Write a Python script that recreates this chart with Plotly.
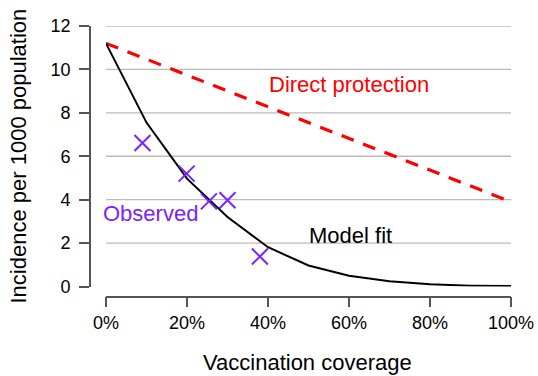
import plotly.graph_objects as go

# Data
coverage_model = [0.0, 0.1, 0.2, 0.3, 0.4, 0.5, 0.6, 0.7, 0.8, 0.9, 1.0]
model_fit = [11.2, 7.55, 4.97, 3.2, 1.81, 0.97, 0.5, 0.24, 0.1, 0.04, 0.02]
coverage_direct = [0.0, 1.0]
direct_protection = [11.2, 3.9]
coverage_obs = [0.09, 0.199, 0.254, 0.30, 0.38]
observed = [6.61, 5.2, 3.92, 3.97, 1.38]
y_ticks = [0, 2, 4, 6, 8, 10, 12]
x_ticks = [0, 0.2, 0.4, 0.6, 0.8, 1.0]
x_tick_labels = ["0%", "20%", "40%", "60%", "80%", "100%"]

FONT = "Liberation Sans, Arial, Helvetica, sans-serif"
PURPLE = "#7A22FF"
RED = "#FF0000"
AXIS = "#555555"
W, H = 538, 376

fig = go.Figure()

fig.add_trace(go.Scatter(x=coverage_direct, y=direct_protection, mode="lines",
                         line=dict(color=RED, width=3.2, dash="13px,10px"),
                         showlegend=False, hoverinfo="skip"))
fig.add_trace(go.Scatter(x=coverage_model, y=model_fit, mode="lines",
                         line=dict(color="black", width=2),
                         showlegend=False, hoverinfo="skip"))
fig.add_trace(go.Scatter(x=coverage_obs, y=observed, mode="markers",
                         marker=dict(symbol="x-thin-open", size=16, color=PURPLE,
                                     line=dict(color=PURPLE, width=2)),
                         showlegend=False, hoverinfo="skip", cliponaxis=False))

shapes = []
for yv in y_ticks[1:]:
    shapes.append(dict(type="line", xref="x", yref="y", x0=0, x1=1, y0=yv, y1=yv,
                       line=dict(color="#BBBBBB", width=1.3), layer="below"))

annotations = [
    dict(x=0.601, y=9.31, xref="x", yref="y", text="Direct protection", showarrow=False,
         xanchor="center", yanchor="middle", font=dict(family=FONT, size=22, color=RED)),
    dict(x=0.6044, y=2.33, xref="x", yref="y", text="Model fit", showarrow=False,
         xanchor="center", yanchor="middle", font=dict(family=FONT, size=22, color="black")),
    dict(x=0.1099, y=3.355, xref="x", yref="y", text="Observed", showarrow=False,
         xanchor="center", yanchor="middle", font=dict(family=FONT, size=22, color=PURPLE)),
    dict(x=307 / W, y=1 - 362 / H, xref="paper", yref="paper", text="Vaccination coverage",
         showarrow=False, xanchor="center", yanchor="middle",
         font=dict(family=FONT, size=22, color="black")),
    dict(x=18 / W, y=1 - 156.5 / H, xref="paper", yref="paper", text="Incidence per 1000 population",
         showarrow=False, xanchor="center", yanchor="middle", textangle=-90,
         font=dict(family=FONT, size=22, color="black")),
]

fig.update_layout(
    width=W, height=H,
    margin=dict(l=0, r=0, t=0, b=0),
    paper_bgcolor="white", plot_bgcolor="white",
    font=dict(family=FONT, size=18, color="black"),
    shapes=shapes, annotations=annotations,
    xaxis=dict(domain=[106 / W, 511 / W], range=[0, 1], anchor="free", position=1 - 296.6 / H,
               tickmode="array", tickvals=x_ticks, ticktext=x_tick_labels,
               showgrid=False, zeroline=False, showline=True, linecolor=AXIS, linewidth=1.5,
               ticks="outside", ticklen=10, tickwidth=1.5, tickcolor=AXIS,
               tickfont=dict(family=FONT, size=18, color="black"), automargin=False),
    yaxis=dict(domain=[1 - 286.5 / H, 1 - 26 / H], range=[0, 12], anchor="free", position=89.8 / W,
               tickmode="array", tickvals=y_ticks,
               showgrid=False, zeroline=False, showline=True, linecolor=AXIS, linewidth=1.5,
               ticks="outside", ticklen=10, tickwidth=1.5, tickcolor=AXIS, ticklabelstandoff=5,
               tickfont=dict(family=FONT, size=18, color="black"), automargin=False),
)

fig.write_html("out.html", config={"displayModeBar": False},
               post_script="document.body.style.margin='0px';document.body.style.overflow='hidden';")
